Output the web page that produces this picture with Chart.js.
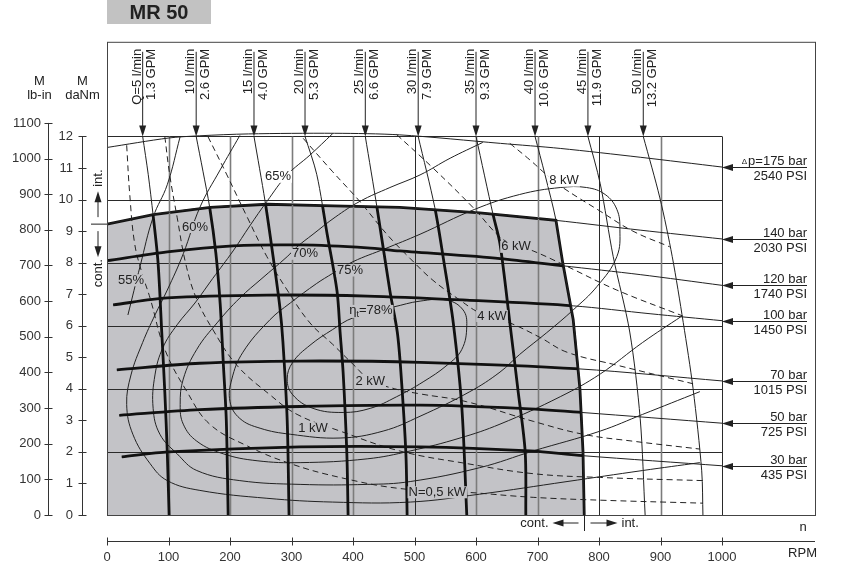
<!DOCTYPE html>
<html lang="en">
<head>
<meta charset="UTF-8">
<title>MR 50</title>
<script src="https://cdn.jsdelivr.net/npm/chart.js"></script>
<style>
    html, body { margin: 0; padding: 0; background: #fff; }
    #wrap { width: 859px; height: 578px; }
</style>
</head>
<body>
<div id="wrap"><canvas id="motorChart" width="859" height="578"></canvas></div>
<script>
// ---- axes ----
const rpmTicks = [0, 100, 200, 300, 400, 500, 600, 700, 800, 900, 1000];
const danmTicks = [0, 1, 2, 3, 4, 5, 6, 7, 8, 9, 10, 11, 12];
const lbinTicks = [0, 100, 200, 300, 400, 500, 600, 700, 800, 900, 1000, 1100];
const LBIN_PER_DANM = 88.507;

// ---- flow lines Q [rpm, daNm] ----
const flowLpm = [5, 10, 15, 20, 25, 30, 35, 40, 45, 50];
const flowGpm = ['1.3', '2.6', '4.0', '5.3', '6.6', '7.9', '9.3', '10.6', '11.9', '13.2'];
const q5  = [[58, 12], [67, 10.8], [75, 9.5], [83, 8], [89, 5.8], [94, 3.9], [98, 2], [101, 0]];
const q10 = [[145, 12], [156, 10.9], [167, 9.75], [177, 8.3], [184, 6.7], [189, 4.85], [194, 3], [197, 0]];
const q15 = [[239, 12], [257, 9.95], [270, 8.2], [281, 6.6], [286, 5.5], [293, 3], [296, 0]];
const q20 = [[322, 12], [341, 10.8], [358, 8.9], [374, 7.1], [379, 5.8], [384, 4.5], [390, 1.95], [392, 0]];
const q25 = [[420, 12], [439, 9.75], [460, 7.1], [472, 5.8], [478, 4.5], [486, 1.95], [488, 0]];
const q30 = [[506, 12], [533, 9.75], [548, 8], [563, 6.1], [577, 3.4], [585, 0]];
const q35 = [[600, 12], [628, 9.5], [639, 8.6], [655, 6.1], [668, 4], [680, 2], [681, 0]];
const q40 = [[696, 12], [712, 10.8], [730, 9.35], [741, 8], [758, 6.2], [769, 4], [774, 2], [776, 0]];
const q45 = [[782, 12], [802, 10.5], [823, 8.2], [850, 5.8], [867, 3.05], [875, 0]];
const q50 = [[872, 12], [899, 10.05], [919, 8.2], [937, 6.1], [953, 4], [967, 1.4], [969, 0]];
const flowLines = [q5, q10, q15, q20, q25, q30, q35, q40, q45, q50];

// ---- pressure lines dp [rpm, daNm] ----
const pressBar = [175, 140, 120, 100, 70, 50, 30];
const pressPsi = [2540, 2030, 1740, 1450, 1015, 725, 435];
const p175 = [[0, 11.65], [100, 11.95], [150, 12.02], [230, 12.08], [370, 12.1], [476, 12.05], [640, 11.78], [737, 11.62], [867, 11.34], [1000, 11.03]];
const p140 = [[0, 9.22], [75, 9.52], [168, 9.75], [260, 9.85], [368, 9.8], [476, 9.75], [606, 9.58], [730, 9.34], [867, 9.03], [1000, 8.75]];
const p120 = [[0, 8.06], [98, 8.34], [205, 8.53], [314, 8.56], [423, 8.47], [476, 8.37], [639, 8.13], [741, 7.9], [867, 7.62], [1000, 7.28]];
const p100 = [[10, 6.66], [98, 6.88], [260, 6.97], [423, 6.94], [585, 6.81], [758, 6.63], [883, 6.38], [1000, 6.16]];
const p70  = [[16, 4.6], [151, 4.81], [314, 4.88], [509, 4.84], [769, 4.63], [1000, 4.25]];
const p50  = [[20, 3.16], [151, 3.34], [314, 3.44], [509, 3.48], [672, 3.38], [772, 3.25], [1000, 2.91]];
const p30  = [[24, 1.84], [100, 2.0], [314, 2.16], [509, 2.16], [688, 2.03], [774, 1.88], [1000, 1.56]];
const pressLines = [p175, p140, p120, p100, p70, p50, p30];

// ---- total efficiency contours ----
const eff55 = [[119, 12], [98, 10.47], [75, 9.44], [54, 7.9], [34, 6.34]];
const eff60 = [[216, 12.03], [184, 10.94], [151, 9.75], [124, 8.28], [98, 7.13], [78, 6.34], [58, 5.47], [39, 4.44], [32, 3.5], [42, 2.56], [70, 1.63], [98, 1.09], [151, 0.78], [260, 0.53], [367, 0.41], [493, 0.41], [606, 0.66], [748, 1.06], [871, 1.41], [964, 1.66]];
const eff65 = [[367, 12.09], [330, 11.41], [293, 10.78], [260, 9.94], [232, 9.16], [205, 8.37], [172, 7.5], [143, 6.72], [114, 6.03], [91, 5.31], [78, 4.44], [75, 3.38], [86, 2.56], [114, 1.94], [146, 1.41], [216, 1.09], [314, 0.97], [423, 0.97], [493, 1.06], [606, 1.5], [693, 2.03], [802, 2.66], [871, 3.19], [964, 3.91]];
const eff70 = [[611, 11.81], [558, 11.31], [509, 10.78], [460, 10.38], [411, 9.94], [371, 9.44], [335, 8.9], [309, 8.5], [293, 8.19], [252, 7.5], [216, 6.88], [179, 6.09], [146, 5.25], [124, 4.31], [119, 3.5], [124, 2.88], [146, 2.34], [189, 1.94], [244, 1.72], [314, 1.66], [423, 1.78], [493, 2.03], [574, 2.44], [639, 2.88], [737, 3.75], [802, 4.47], [871, 5.47], [935, 6.31]];
const eff75 = [[367, 7.66], [400, 8.03], [452, 8.44], [509, 8.9], [598, 9.69], [671, 10.16], [737, 10.38], [780, 10.38], [810, 10.16], [829, 9.69], [834, 9.06], [829, 8.19], [797, 7.25], [758, 6.5], [715, 5.78], [671, 5.09], [639, 4.53], [590, 3.91], [509, 3.13], [449, 2.66], [379, 2.44], [298, 2.56], [249, 2.75], [216, 3.06], [200, 3.59], [203, 4.31], [221, 5.16], [265, 6.19], [298, 6.72], [341, 7.34], [367, 7.66]];
const eff78 = [[465, 6.59], [509, 6.78], [553, 6.81], [579, 6.5], [585, 6.0], [577, 5.25], [553, 4.75], [514, 4.22], [471, 3.75], [428, 3.38], [384, 3.25], [335, 3.38], [302, 3.81], [293, 4.31], [302, 4.84], [330, 5.38], [367, 5.88], [400, 6.25], [465, 6.59]];
const effLines = [eff55, eff60, eff65, eff70, eff75, eff78];

// ---- output power (dashed) ----
const pw05 = [[32, 11.72], [37, 10.16], [45, 8.6], [57, 7.66], [70, 6.88], [94, 5.25], [130, 3.91], [167, 2.88], [228, 2.19], [298, 1.63], [379, 1.19], [476, 0.84], [585, 0.72], [693, 0.56], [802, 0.47], [969, 0.375]];
const pw1  = [[94, 12], [102, 10.78], [114, 9.44], [128, 7.97], [145, 6.88], [172, 5.88], [211, 4.75], [265, 3.81], [309, 3.19], [379, 2.66], [476, 2.03], [585, 1.63], [693, 1.31], [802, 1.19], [969, 1.09]];
const pw2  = [[164, 12], [195, 10.78], [228, 9.44], [260, 8.19], [293, 7.13], [330, 6.09], [367, 5.41], [400, 4.78], [428, 4.28], [468, 4.0], [509, 3.84], [585, 3.59], [693, 2.97], [774, 2.56], [855, 2.34], [964, 2.09]];
const pw4  = [[319, 11.94], [367, 10.88], [411, 9.94], [455, 8.9], [493, 8.13], [530, 7.44], [574, 6.81], [606, 6.41], [655, 6.09], [704, 5.63], [748, 5.16], [829, 4.75], [953, 4.16]];
const pw6  = [[471, 12.06], [530, 11], [595, 9.75], [639, 8.81], [663, 8.56], [693, 8.37], [748, 7.88], [829, 7.13], [936, 6.31]];
const pw8  = [[655, 11.78], [688, 11.25], [715, 10.78], [741, 10.38], [802, 9.63], [855, 9.0], [915, 8.5]];
const powerLines = [pw05, pw1, pw2, pw4, pw6, pw8];

// ---- curve labels [text, rpm, daNm] ----
const curveLabels = [
    ['55%', 39, 7.44], ['60%', 143, 9.13], ['65%', 278, 10.72], ['70%', 322, 8.28], ['75%', 395, 7.75],
    ['8 kW', 743, 10.6], ['6 kW', 665, 8.5], ['4 kW', 626, 6.31], ['2 kW', 428, 4.22], ['1 kW', 335, 2.75], ['N=0,5 kW', 537, 0.72]
];
const eta78Label = ['=78%', 429, 6.47];

// continuous duty area: 140 bar line up to Q=40, then Q=40 down to zero
const contEdge = p140.filter(p => p[0] <= q40[2][0]).concat(q40.slice(3));

const INK = '#222';
const GREY = '#c3c3c7';
const FONT = '"Liberation Sans", Arial, sans-serif';

function arrowHead(ctx, x, y, dx, dy) {
    const len = 11, half = 3.5;
    const bx = x - dx * len, by = y - dy * len;
    ctx.beginPath();
    ctx.moveTo(x, y);
    ctx.lineTo(bx - dy * half, by + dx * half);
    ctx.lineTo(bx + dy * half, by - dx * half);
    ctx.closePath();
    ctx.fill();
}

function seg(ctx, x1, y1, x2, y2) {
    ctx.beginPath();
    ctx.moveTo(x1, y1);
    ctx.lineTo(x2, y2);
    ctx.stroke();
}

function greyPath(chart) {
    const xs = chart.scales.x, ys = chart.scales.y;
    const idx = chart.data.datasets.findIndex(d => d.isGrey);
    const p = new Path2D();
    p.moveTo(xs.getPixelForValue(0), ys.getPixelForValue(0));
    chart.getDatasetMeta(idx).data.forEach(pt => p.lineTo(pt.x, pt.y));
    p.closePath();
    return p;
}

function drawGrid(chart) {
    const { ctx, scales: { x: xs, y: ys } } = chart;
    const dark = [500, 800, 1000];
    ctx.save();
    ctx.strokeStyle = '#2a2a2a';
    ctx.lineWidth = 1;
    danmTicks.filter(v => v > 0 && v % 2 === 0).forEach(v => {
        const y = Math.round(ys.getPixelForValue(v)) + 0.5;
        seg(ctx, xs.getPixelForValue(0), y, xs.getPixelForValue(1000), y);
    });
    rpmTicks.filter(v => v > 0).forEach(v => {
        const x = Math.round(xs.getPixelForValue(v)) + 0.5;
        ctx.strokeStyle = dark.includes(v) ? '#2a2a2a' : '#7c7c7c';
        ctx.lineWidth = dark.includes(v) ? 1 : 1.6;
        seg(ctx, x, ys.getPixelForValue(12), x, ys.getPixelForValue(0));
    });
    ctx.restore();
}

function drawAxes(chart) {
    const { ctx, chartArea: a, scales: { x: xs, y: ys, y2 } } = chart;
    ctx.save();
    ctx.strokeStyle = '#444';
    ctx.lineWidth = 1;
    ctx.strokeRect(a.left + 0.5, a.top + 0.5, a.right - a.left, a.bottom - a.top);

    ctx.strokeStyle = '#333';
    const ax = a.bottom + 26.5;
    seg(ctx, a.left, ax, a.right, ax);
    rpmTicks.forEach(v => { const x = Math.round(xs.getPixelForValue(v)) + 0.5; seg(ctx, x, ax - 4, x, ax + 4); });

    const dx = a.left - 24.5;
    seg(ctx, dx, ys.getPixelForValue(12), dx, ys.getPixelForValue(0));
    danmTicks.forEach(v => { const y = Math.round(ys.getPixelForValue(v)) + 0.5; seg(ctx, dx - 4, y, dx + 4, y); });

    const lx = a.left - 58.5;
    seg(ctx, lx, y2.getPixelForValue(1100), lx, y2.getPixelForValue(0));
    lbinTicks.forEach(v => { const y = Math.round(y2.getPixelForValue(v)) + 0.5; seg(ctx, lx - 4, y, lx + 4, y); });

    ctx.fillStyle = INK;
    ctx.font = '13px ' + FONT;
    ctx.textAlign = 'center';
    ctx.textBaseline = 'middle';
    ctx.fillText('M', lx - 9, 81);
    ctx.fillText('lb-in', lx - 9, 95);
    ctx.fillText('M', dx, 81);
    ctx.fillText('daNm', dx, 95);
    ctx.fillText('n', 803, a.bottom + 12);
    ctx.textAlign = 'right';
    ctx.fillText('RPM', 817, 553);

    // title box
    ctx.fillStyle = '#c2c2c2';
    ctx.fillRect(a.left, 0, 104, 24);
    ctx.fillStyle = INK;
    ctx.font = 'bold 20px ' + FONT;
    ctx.textAlign = 'center';
    ctx.fillText('MR 50', a.left + 52, 13);
    ctx.restore();
}

function drawArrows(chart) {
    const { ctx, chartArea: a, scales: { x: xs, y: ys } } = chart;
    ctx.save();
    ctx.strokeStyle = INK;
    ctx.fillStyle = INK;
    ctx.lineWidth = 1;
    ctx.font = '13px ' + FONT;

    flowLines.forEach((f, i) => {
        const x = xs.getPixelForValue(f[0][0]);
        const yTip = ys.getPixelForValue(f[0][1]);
        seg(ctx, x, a.top + 10, x, yTip - 8);
        arrowHead(ctx, x, yTip, 0, 1);
        const left = (i === 0 ? 'Q=' : '') + flowLpm[i] + ' l/min';
        ctx.save();
        ctx.translate(x - 2, a.top + 7);
        ctx.rotate(-Math.PI / 2);
        ctx.textAlign = 'right';
        ctx.textBaseline = 'alphabetic';
        ctx.fillText(left, 0, 0);
        ctx.restore();
        ctx.save();
        ctx.translate(x + 2.5, a.top + 7);
        ctx.rotate(-Math.PI / 2);
        ctx.textAlign = 'right';
        ctx.textBaseline = 'top';
        ctx.fillText(flowGpm[i] + ' GPM', 0, 0);
        ctx.restore();
    });

    pressLines.forEach((p, i) => {
        const end = p[p.length - 1];
        const x = xs.getPixelForValue(end[0]);
        const y = Math.round(ys.getPixelForValue(end[1])) + 0.5;
        const xr = x + 85;
        seg(ctx, x + 8, y, xr, y);
        arrowHead(ctx, x, y, -1, 0);
        ctx.textAlign = 'right';
        ctx.textBaseline = 'alphabetic';
        ctx.font = '13px ' + FONT;
        const top = (i === 0 ? 'p=' : '') + pressBar[i] + ' bar';
        ctx.fillText(top, xr, y - 3);
        if (i === 0) {
            const w = ctx.measureText(top).width;
            ctx.font = '8px ' + FONT;
            ctx.fillText('\u0394', xr - w - 1, y - 4);
            ctx.font = '13px ' + FONT;
        }
        ctx.textBaseline = 'top';
        ctx.fillText(pressPsi[i] + ' PSI', xr, y + 2);
    });

    // int. / cont. marks on the torque side
    const yc = ys.getPixelForValue(p140[0][1]);
    const ax = a.left - 9;
    seg(ctx, a.left - 16, yc, a.left, yc);
    seg(ctx, ax, yc - 7, ax, yc - 26);
    arrowHead(ctx, ax, yc - 33, 0, -1);
    seg(ctx, ax, yc + 7, ax, yc + 26);
    arrowHead(ctx, ax, yc + 33, 0, 1);
    ctx.textAlign = 'center';
    ctx.textBaseline = 'middle';
    [['int.', yc - 46], ['cont.', yc + 49]].forEach(([t, y]) => {
        ctx.save();
        ctx.translate(ax, y);
        ctx.rotate(-Math.PI / 2);
        ctx.fillText(t, 0, 0);
        ctx.restore();
    });

    // cont. / int. marks on the speed side
    const xd = Math.round(xs.getPixelForValue(q40[q40.length - 1][0])) + 0.5;
    const yb = a.bottom + 8;
    seg(ctx, xd, a.bottom, xd, a.bottom + 16);
    seg(ctx, xd - 6, yb, xd - 26, yb);
    arrowHead(ctx, xd - 32, yb, -1, 0);
    seg(ctx, xd + 6, yb, xd + 26, yb);
    arrowHead(ctx, xd + 33, yb, 1, 0);
    ctx.textAlign = 'right';
    ctx.fillText('cont.', xd - 36, yb);
    ctx.textAlign = 'left';
    ctx.fillText('int.', xd + 37, yb);
    ctx.restore();
}

function drawLabels(chart) {
    const { ctx, scales: { x: xs, y: ys } } = chart;
    const area = greyPath(chart);
    ctx.save();
    ctx.font = '13px ' + FONT;
    ctx.textAlign = 'center';
    ctx.textBaseline = 'middle';
    curveLabels.forEach(([t, n, m]) => {
        const x = xs.getPixelForValue(n), y = ys.getPixelForValue(m);
        const w = ctx.measureText(t).width;
        ctx.fillStyle = ctx.isPointInPath(area, x, y) ? GREY : '#fff';
        ctx.fillRect(x - w / 2 - 1, y - 6, w + 2, 12);
        ctx.fillStyle = INK;
        ctx.fillText(t, x, y);
    });

    // eta_t = 78 %
    const [t, n, m] = eta78Label;
    const x = xs.getPixelForValue(n), y = ys.getPixelForValue(m);
    const wEta = ctx.measureText('\u03b7').width;
    const wRest = ctx.measureText(t).width;
    ctx.font = '9px ' + FONT;
    const wSub = ctx.measureText('t').width;
    const total = wEta + wSub + wRest;
    const x0 = x - total / 2;
    ctx.fillStyle = GREY;
    ctx.fillRect(x0 - 1, y - 6, total + 2, 13);
    ctx.fillStyle = INK;
    ctx.textAlign = 'left';
    ctx.fillText('t', x0 + wEta, y + 4);
    ctx.font = '13px ' + FONT;
    ctx.fillText('\u03b7', x0, y);
    ctx.fillText(t, x0 + wEta + wSub, y);
    ctx.restore();
}

const chartDecor = {
    id: 'chartDecor',
    beforeDatasetDraw(chart, args) {
        const ds = chart.data.datasets[args.index];
        if (ds.clipGrey) {
            chart.ctx.save();
            chart.ctx.clip(greyPath(chart));
        }
    },
    afterDatasetDraw(chart, args) {
        const ds = chart.data.datasets[args.index];
        if (ds.clipGrey) chart.ctx.restore();
        if (ds.isGrey) drawGrid(chart);
    },
    afterDatasetsDraw(chart) {
        drawAxes(chart);
        drawArrows(chart);
        drawLabels(chart);
    }
};

// datasets listed bottom layer first
const datasets = [];
function add(data, style) {
    datasets.push(Object.assign({
        data: data, pointRadius: 0, tension: 0.4, borderColor: INK, borderWidth: 1, fill: false
    }, style));
}
add(contEdge, { isGrey: true, fill: 'origin', backgroundColor: GREY, borderColor: '#111', borderWidth: 2.8, tension: 0 });
effLines.forEach(d => add(d, {}));
powerLines.forEach(d => add(d, { borderDash: [6, 4] }));
pressLines.forEach(d => add(d, { tension: 0.3 }));
flowLines.forEach(d => add(d, { tension: 0.3 }));
pressLines.slice(2).forEach(d => add(d, { tension: 0.3, borderWidth: 2.8, borderColor: '#111', clipGrey: true }));
flowLines.slice(0, 7).forEach(d => add(d, { tension: 0.3, borderWidth: 2.8, borderColor: '#111', clipGrey: true }));
datasets.forEach((d, i) => { d.order = -i; });

Chart.defaults.font.family = FONT;
Chart.defaults.font.size = 13;
Chart.defaults.color = '#333';

new Chart(document.getElementById('motorChart'), {
    type: 'line',
    data: { datasets: datasets },
    options: {
        responsive: false,
        animation: false,
        events: [],
        layout: { padding: { top: 35, right: 44, left: 0, bottom: 0 }, autoPadding: false },
        plugins: { legend: { display: false }, tooltip: { enabled: false } },
        scales: {
            x: {
                type: 'linear', position: 'bottom', min: 0, max: 1000 * 708 / 615,
                afterBuildTicks: s => { s.ticks = rpmTicks.map(v => ({ value: v })); },
                afterFit: s => { s.height = 63; },
                grid: { display: false, drawTicks: false },
                border: { display: false },
                ticks: { padding: 35, autoSkip: false, maxRotation: 0, callback: v => String(v) }
            },
            y: {
                type: 'linear', position: 'left', weight: 0, min: 0, max: 15,
                afterBuildTicks: s => { s.ticks = danmTicks.map(v => ({ value: v })); },
                afterFit: s => { s.width = 52; },
                grid: { display: false, drawTicks: false },
                border: { display: false },
                ticks: { padding: 34, autoSkip: false, callback: v => String(v) }
            },
            y2: {
                type: 'linear', position: 'left', weight: 1, min: 0, max: 15 * LBIN_PER_DANM,
                afterBuildTicks: s => { s.ticks = lbinTicks.map(v => ({ value: v })); },
                afterFit: s => { s.width = 55; },
                grid: { display: false, drawTicks: false },
                border: { display: false },
                ticks: { padding: 14, autoSkip: false, callback: v => String(v) }
            }
        }
    },
    plugins: [chartDecor]
});
</script>
</body>
</html>
